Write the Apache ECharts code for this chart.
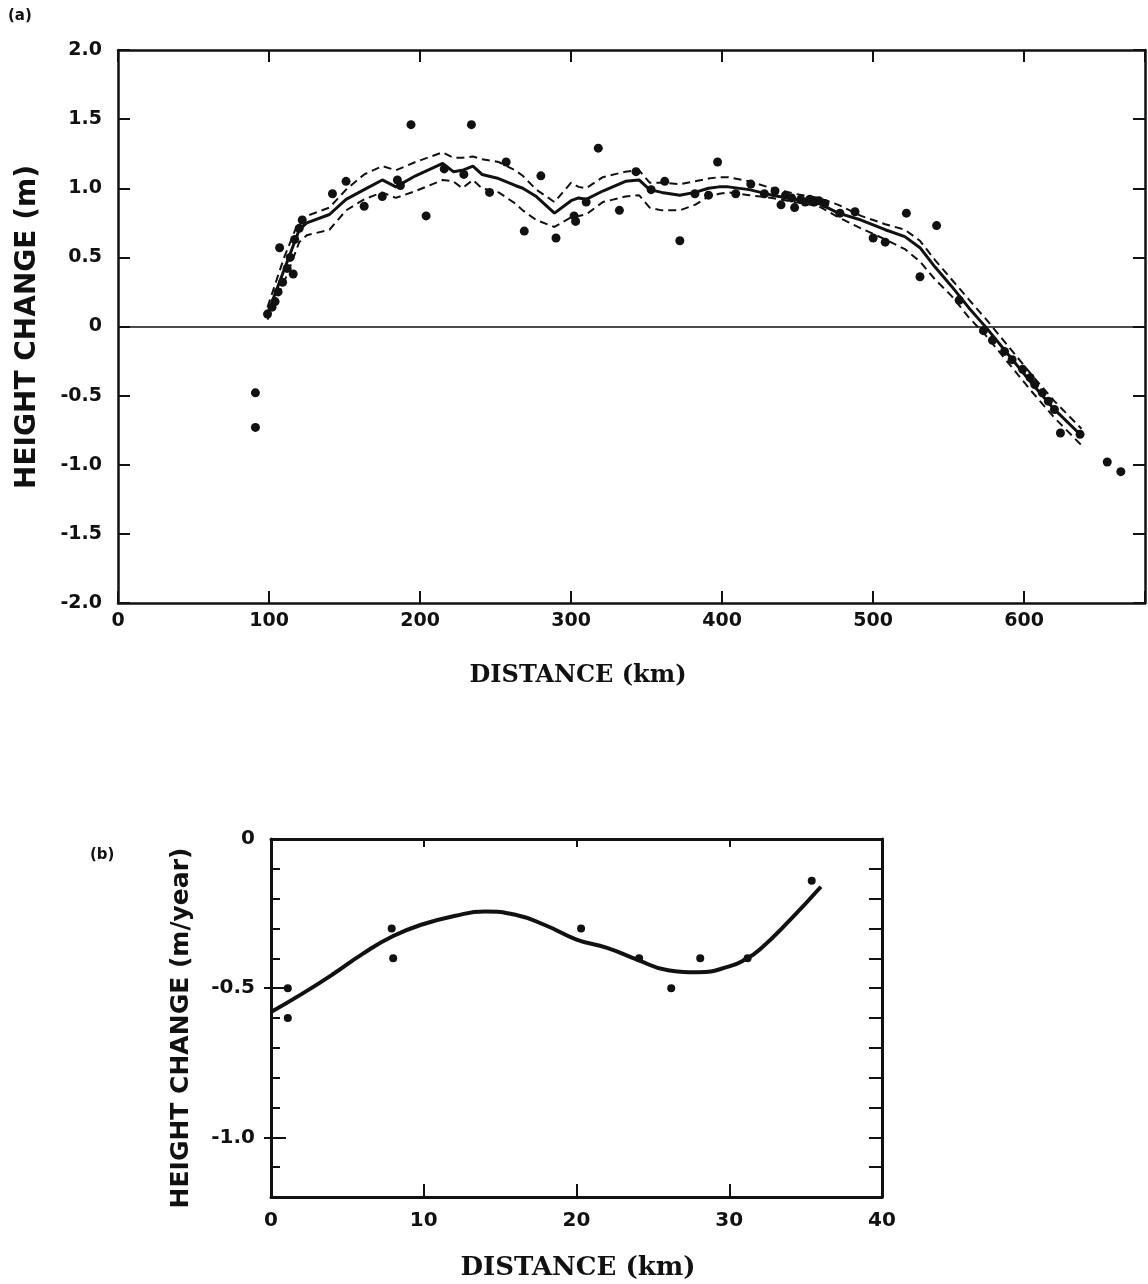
<!DOCTYPE html>
<html>
<head>
<meta charset="utf-8">
<script src="https://cdn.jsdelivr.net/npm/echarts@6/dist/echarts.min.js"></script>
<style>
  html, body { margin: 0; padding: 0; background: #fff; }
  #chart { width: 1148px; height: 1284px; }
</style>
</head>
<body>
<div id="chart"></div>
<script>
// (a) fitted height-change profile and its confidence band
const fitDist  = [99, 110, 120, 125, 140, 151, 163, 175, 184, 197, 215, 222, 228, 235, 241, 252, 263, 268, 277, 289, 300, 305, 310, 321, 336, 345, 352, 360, 372, 382, 391, 398, 404, 418, 433, 448, 464, 477, 492, 508, 521, 531, 541, 552, 563, 575, 590, 605, 620, 638];
const fitMid   = [0.09, 0.41, 0.70, 0.75, 0.81, 0.92, 0.99, 1.06, 1.01, 1.09, 1.18, 1.12, 1.13, 1.16, 1.10, 1.07, 1.02, 1.00, 0.94, 0.82, 0.91, 0.93, 0.92, 0.98, 1.05, 1.06, 0.99, 0.97, 0.95, 0.97, 1.00, 1.01, 1.01, 0.99, 0.95, 0.92, 0.89, 0.82, 0.77, 0.70, 0.65, 0.57, 0.43, 0.29, 0.14, -0.01, -0.21, -0.41, -0.60, -0.79];
const fitUpper = [0.14, 0.50, 0.77, 0.80, 0.86, 0.99, 1.10, 1.16, 1.13, 1.19, 1.26, 1.22, 1.22, 1.23, 1.21, 1.19, 1.13, 1.09, 0.99, 0.90, 1.04, 1.01, 1.00, 1.08, 1.12, 1.13, 1.04, 1.04, 1.03, 1.05, 1.07, 1.08, 1.08, 1.05, 1.00, 0.96, 0.93, 0.88, 0.80, 0.74, 0.70, 0.62, 0.48, 0.34, 0.20, 0.05, -0.15, -0.35, -0.54, -0.74];
const fitLower = [0.05, 0.32, 0.61, 0.66, 0.70, 0.84, 0.92, 0.97, 0.93, 0.98, 1.06, 1.05, 1.00, 1.06, 1.00, 0.97, 0.89, 0.84, 0.77, 0.72, 0.79, 0.80, 0.81, 0.90, 0.94, 0.95, 0.86, 0.84, 0.84, 0.88, 0.94, 0.96, 0.97, 0.95, 0.93, 0.90, 0.87, 0.79, 0.71, 0.63, 0.56, 0.47, 0.34, 0.22, 0.07, -0.07, -0.27, -0.47, -0.66, -0.86];

// (a) observations: [distance km, height change m]
const obsA = [
  [91, -0.48], [91, -0.73], [99, 0.09], [102, 0.14], [104, 0.18], [106, 0.25], [107, 0.57],
  [109, 0.32], [112, 0.42], [114, 0.50], [116, 0.38], [117, 0.63], [120, 0.71], [122, 0.77],
  [142, 0.96], [151, 1.05], [163, 0.87], [175, 0.94], [185, 1.06], [187, 1.02], [194, 1.46],
  [204, 0.80], [216, 1.14], [229, 1.10], [234, 1.46], [246, 0.97], [257, 1.19], [269, 0.69],
  [280, 1.09], [290, 0.64], [302, 0.80], [303, 0.76], [310, 0.90], [318, 1.29], [332, 0.84],
  [343, 1.12], [353, 0.99], [362, 1.05], [372, 0.62], [382, 0.96], [391, 0.95], [397, 1.19],
  [409, 0.96], [419, 1.03], [428, 0.96], [435, 0.98], [439, 0.88], [442, 0.95], [446, 0.93],
  [448, 0.86], [452, 0.92], [455, 0.90], [458, 0.92], [461, 0.90], [464, 0.91], [468, 0.89],
  [478, 0.82], [488, 0.83], [500, 0.64], [508, 0.61], [522, 0.82], [531, 0.36], [542, 0.73],
  [557, 0.19], [573, -0.03], [579, -0.10], [587, -0.18], [592, -0.24], [599, -0.31], [604, -0.37],
  [607, -0.42], [612, -0.48], [616, -0.54], [620, -0.60], [624, -0.77], [637, -0.78],
  [655, -0.98], [664, -1.05]
];

// (b) rate of height change
const rateDist = [0, 2, 4, 6, 8, 10, 12, 14, 16, 18, 20, 22, 24, 26, 28, 30, 31, 32, 34, 36];
const rateFit  = [-0.58, -0.52, -0.455, -0.385, -0.325, -0.285, -0.258, -0.243, -0.254, -0.29, -0.337, -0.365, -0.405, -0.44, -0.447, -0.427, -0.405, -0.37, -0.27, -0.16];
const obsB = [
  [1.1, -0.50], [1.1, -0.60], [7.9, -0.30], [8.0, -0.40], [20.3, -0.30],
  [24.1, -0.40], [26.2, -0.50], [28.1, -0.40], [31.2, -0.40], [35.4, -0.14]
];

const xTicksB = [10, 20, 30];
const yMajorB = [-0.5, -1.0];

const zip = (xs, ys) => xs.map((x, i) => [x, ys[i]]);
const INK = '#111';
const SANS = '"DejaVu Sans", sans-serif';
const SERIF = '"DejaVu Serif", serif';
const tickFmt = (v) => (Math.abs(v) < 1e-9 ? '0' : v.toFixed(1));

const lineA = { onZero: false, lineStyle: { color: INK, width: 2.5 } };
const lineB = { onZero: false, lineStyle: { color: INK, width: 3 } };
const tickStyle = { color: INK, width: 2 };
const noSplit = { show: false };

const chart = echarts.init(document.getElementById('chart'));

chart.setOption({
  animation: false,
  backgroundColor: '#fff',
  grid: [
    { left: 118, top: 50, width: 1029, height: 553 },
    { left: 271, top: 839, width: 611, height: 358 }
  ],
  xAxis: [
    {
      gridIndex: 0, type: 'value', position: 'bottom', min: 0, max: 680, interval: 100,
      axisLine: lineA,
      axisTick: { inside: true, length: 12, lineStyle: tickStyle },
      axisLabel: {
        color: INK, fontFamily: SANS, fontWeight: 'bold', fontSize: 19, margin: 9,
        formatter: (v) => (v % 100 === 0 ? String(v) : '')
      },
      splitLine: noSplit
    },
    {
      gridIndex: 0, type: 'value', position: 'top', min: 0, max: 680, interval: 100,
      axisLine: lineA,
      axisTick: { inside: true, length: 12, lineStyle: tickStyle },
      axisLabel: { show: false },
      splitLine: noSplit
    },
    {
      gridIndex: 1, type: 'value', position: 'bottom', min: 0, max: 40, interval: 10,
      axisLine: lineB,
      axisTick: { inside: true, length: 13, lineStyle: tickStyle },
      axisLabel: { color: INK, fontFamily: SANS, fontWeight: 'bold', fontSize: 20, margin: 14 },
      splitLine: noSplit
    },
    {
      gridIndex: 1, type: 'value', position: 'top', min: 0, max: 40, interval: 10,
      axisLine: lineB,
      axisTick: { inside: true, length: 8, customValues: xTicksB, lineStyle: tickStyle },
      axisLabel: { show: false },
      splitLine: noSplit
    }
  ],
  yAxis: [
    {
      gridIndex: 0, type: 'value', position: 'left', min: -2, max: 2, interval: 0.5,
      axisLine: lineA,
      axisTick: { inside: true, length: 12, lineStyle: tickStyle },
      axisLabel: { color: INK, fontFamily: SANS, fontWeight: 'bold', fontSize: 19, margin: 16, formatter: tickFmt },
      splitLine: noSplit
    },
    {
      gridIndex: 0, type: 'value', position: 'right', min: -2, max: 2, interval: 0.5,
      axisLine: lineA,
      axisTick: { inside: true, length: 12, lineStyle: tickStyle },
      axisLabel: { show: false },
      splitLine: noSplit
    },
    {
      gridIndex: 1, type: 'value', position: 'left', min: -1.2, max: 0, interval: 0.1,
      axisLine: lineB,
      axisTick: { inside: true, length: 9, lineStyle: tickStyle },
      axisLabel: {
        color: INK, fontFamily: SANS, fontWeight: 'bold', fontSize: 20, margin: 16,
        formatter: (v) => (Math.abs(v * 2 - Math.round(v * 2)) < 1e-6 ? tickFmt(v) : '')
      },
      splitLine: noSplit
    },
    {
      gridIndex: 1, type: 'value', position: 'left', min: -1.2, max: 0,
      axisLine: { show: false, onZero: false },
      axisTick: { inside: true, length: 15, customValues: yMajorB, lineStyle: tickStyle },
      axisLabel: { show: false },
      splitLine: noSplit
    },
    {
      gridIndex: 1, type: 'value', position: 'left', min: -1.2, max: 0,
      axisLine: { show: false, onZero: false },
      axisTick: { inside: false, length: 7, customValues: yMajorB, lineStyle: tickStyle },
      axisLabel: { show: false },
      splitLine: noSplit
    },
    {
      gridIndex: 1, type: 'value', position: 'right', min: -1.2, max: 0, interval: 0.1,
      axisLine: lineB,
      axisTick: { inside: true, length: 13, lineStyle: tickStyle },
      axisLabel: { show: false },
      splitLine: noSplit
    }
  ],
  series: [
    {
      name: 'observed (a)', type: 'scatter', xAxisIndex: 0, yAxisIndex: 0,
      data: obsA, symbolSize: 9, itemStyle: { color: INK, opacity: 1 }, z: 5,
      markLine: {
        silent: true, symbol: 'none', label: { show: false },
        lineStyle: { color: INK, width: 1.6, type: 'solid' },
        data: [{ yAxis: 0 }]
      }
    },
    {
      name: 'upper', type: 'line', xAxisIndex: 0, yAxisIndex: 0,
      data: zip(fitDist, fitUpper), showSymbol: false,
      lineStyle: { color: INK, width: 2, type: [8, 5] }
    },
    {
      name: 'lower', type: 'line', xAxisIndex: 0, yAxisIndex: 0,
      data: zip(fitDist, fitLower), showSymbol: false,
      lineStyle: { color: INK, width: 2, type: [8, 5] }
    },
    {
      name: 'fit', type: 'line', xAxisIndex: 0, yAxisIndex: 0,
      data: zip(fitDist, fitMid), showSymbol: false,
      lineStyle: { color: INK, width: 3 }
    },
    {
      name: 'observed (b)', type: 'scatter', xAxisIndex: 2, yAxisIndex: 2,
      data: obsB, symbolSize: 8, itemStyle: { color: INK, opacity: 1 }, z: 5
    },
    {
      name: 'rate fit', type: 'line', xAxisIndex: 2, yAxisIndex: 2,
      data: zip(rateDist, rateFit), smooth: true, showSymbol: false,
      lineStyle: { color: INK, width: 4 }
    }
  ],
  graphic: [
    { type: 'text', left: 8, top: 9, style: { text: '(a)', fill: INK, fontFamily: SANS, fontWeight: 'bold', fontSize: 15 } },
    { type: 'text', left: 90, top: 848, style: { text: '(b)', fill: INK, fontFamily: SANS, fontWeight: 'bold', fontSize: 15 } },
    {
      type: 'text', x: 28, y: 327, rotation: Math.PI / 2,
      style: { text: 'HEIGHT CHANGE (m)', fill: INK, fontFamily: SANS, fontWeight: 'bold', fontSize: 28, align: 'center', verticalAlign: 'middle' }
    },
    {
      type: 'text', x: 578, y: 676,
      style: { text: 'DISTANCE (km)', fill: INK, fontFamily: SERIF, fontWeight: 'bold', fontSize: 24, align: 'center', verticalAlign: 'middle' }
    },
    {
      type: 'text', x: 181, y: 1028, rotation: Math.PI / 2,
      style: { text: 'HEIGHT CHANGE (m/year)', fill: INK, fontFamily: SANS, fontWeight: 'bold', fontSize: 25, align: 'center', verticalAlign: 'middle' }
    },
    {
      type: 'text', x: 578, y: 1268,
      style: { text: 'DISTANCE (km)', fill: INK, fontFamily: SERIF, fontWeight: 'bold', fontSize: 26, align: 'center', verticalAlign: 'middle' }
    }
  ]
});
</script>
</body>
</html>
